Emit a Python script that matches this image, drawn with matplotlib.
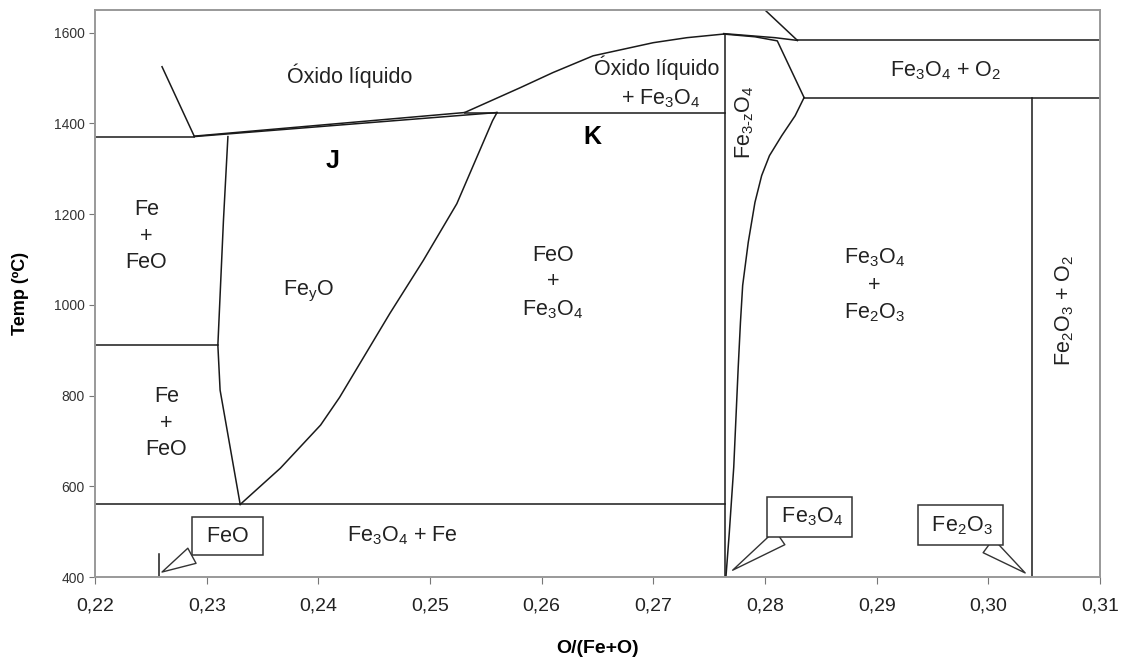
import matplotlib.pyplot as plt
from matplotlib.ticker import FuncFormatter

plt.rcParams['font.family'] = ['Liberation Sans', 'DejaVu Sans']
plt.rcParams['mathtext.fontset'] = 'custom'
plt.rcParams['mathtext.rm'] = 'Liberation Sans'
plt.rcParams['mathtext.it'] = 'Liberation Sans:italic'
plt.rcParams['mathtext.bf'] = 'Liberation Sans:bold'

# phase boundaries, O/(Fe+O) vs temperature (C)
wustite_left_x = [0.2319, 0.2315, 0.2310, 0.2312, 0.2330]
wustite_left_t = [1371, 1186, 911, 812, 560]
wustite_right_x = [0.2330, 0.2366, 0.2402, 0.2419, 0.2464, 0.2494, 0.2524, 0.2556, 0.2560]
wustite_right_t = [560, 640, 735, 796, 981, 1098, 1223, 1406, 1424]
liquidus_x = [0.2531, 0.2581, 0.2610, 0.2646, 0.2700, 0.2730, 0.2763]
liquidus_t = [1424, 1479, 1512, 1549, 1578, 1589, 1597]
magnetite_right_x = [0.2835, 0.2827, 0.2815, 0.2804, 0.2797, 0.2791, 0.2785, 0.2780,
                     0.2778, 0.2776, 0.2772, 0.2768, 0.2765]
magnetite_right_t = [1457, 1417, 1373, 1329, 1285, 1226, 1138, 1043,
                     961, 862, 642, 497, 400]
magnetite_top_x = [0.2763, 0.2791, 0.2811, 0.2835]
magnetite_top_t = [1597, 1591, 1582, 1457]
magnetite_top2_x = [0.2763, 0.2809, 0.2829]
magnetite_top2_t = [1598, 1589, 1583]
fe_liquidus_x = [0.2260, 0.2289]
fe_liquidus_t = [1525, 1371]
solidus_upper_x = [0.2289, 0.2531]
solidus_upper_t = [1372, 1424]
solidus_lower_x = [0.2289, 0.2560]
solidus_lower_t = [1371, 1424]
o2_line_x = [0.2800, 0.2829]
o2_line_t = [1650, 1583]

# isotherms: (temperature, x start, x end)
isotherms = [
    (1371, 0.2200, 0.2289),
    (912, 0.2200, 0.2310),
    (560, 0.2200, 0.2764),
    (1424, 0.2531, 0.2764),
    (1583, 0.2829, 0.3100),
    (1457, 0.2835, 0.3100),
]
# verticals: (x, t start, t end)
verticals = [
    (0.2764, 400, 1597),
    (0.3039, 400, 1457),
    (0.2257, 400, 451),
]

xticks = [0.22, 0.23, 0.24, 0.25, 0.26, 0.27, 0.28, 0.29, 0.30, 0.31]
yticks = [400, 600, 800, 1000, 1200, 1400, 1600]

fig = plt.figure(figsize=(11.26, 6.59), dpi=100)
ax = fig.add_axes([0.0844, 0.1244, 0.8925, 0.8604])

lc = '#1a1a1a'
lw = 1.1
curves = [
    (wustite_left_x, wustite_left_t), (wustite_right_x, wustite_right_t),
    (liquidus_x, liquidus_t), (magnetite_right_x, magnetite_right_t),
    (magnetite_top_x, magnetite_top_t), (magnetite_top2_x, magnetite_top2_t),
    (fe_liquidus_x, fe_liquidus_t), (solidus_upper_x, solidus_upper_t),
    (solidus_lower_x, solidus_lower_t), (o2_line_x, o2_line_t),
]
for xs, ts in curves:
    ax.plot(xs, ts, color=lc, lw=lw)
for t, x0, x1 in isotherms:
    ax.plot([x0, x1], [t, t], color=lc, lw=lw)
for x, t0, t1 in verticals:
    ax.plot([x, x], [t0, t1], color=lc, lw=lw)

ax.set_xlim(0.22, 0.31)
ax.set_ylim(400, 1650)
ax.set_xticks(xticks)
ax.set_yticks(yticks)
ax.xaxis.set_major_formatter(FuncFormatter(lambda v, p: f'{v:.2f}'.replace('.', ',')))
ax.tick_params(axis='x', labelsize=14, length=5, color='#777777', labelcolor='#222222', pad=10)
ax.tick_params(axis='y', labelsize=10, length=4, color='#777777', labelcolor='#333333')
for s in ax.spines.values():
    s.set_color('#999999')
    s.set_linewidth(1.4)

ax.set_xlabel('O/(Fe+O)', fontsize=14, fontweight='bold', labelpad=18)
ax.set_ylabel('Temp (ºC)', fontsize=13, fontweight='bold', labelpad=18)

fs = 15.5
tc = '#222222'
ax.text(0.2428, 1505, 'Óxido líquido', fontsize=fs, color=tc, ha='center', va='center')
ax.text(0.2703, 1523, 'Óxido líquido', fontsize=fs, color=tc, ha='center', va='center')
ax.text(0.2707, 1455, '+ Fe$_3$O$_4$', fontsize=fs, color=tc, ha='center', va='center')
ax.text(0.2413, 1318, 'J', fontsize=18, fontweight='bold', ha='center', va='center')
ax.text(0.2645, 1369, 'K', fontsize=18, fontweight='bold', ha='center', va='center')
ax.text(0.2782, 1402, r'Fe$_{\text{3-z}}$O$_4$', fontsize=fs, color=tc, rotation=90,
        ha='center', va='center')
ax.text(0.2962, 1516, 'Fe$_3$O$_4$ + O$_2$', fontsize=fs, color=tc, ha='center', va='center')
ax.text(0.2246, 1151, 'Fe\n+\nFeO', fontsize=fs, color=tc, ha='center', va='center',
        linespacing=1.35)
ax.text(0.2391, 1030, 'Fe$_\\mathrm{y}$O', fontsize=fs, color=tc, ha='center', va='center')
ax.text(0.2610, 1049, 'FeO\n+\nFe$_3$O$_4$', fontsize=fs, color=tc, ha='center', va='center',
        linespacing=1.35)
ax.text(0.2898, 1043, 'Fe$_3$O$_4$\n+\nFe$_2$O$_3$', fontsize=fs, color=tc, ha='center',
        va='center', linespacing=1.35)
ax.text(0.3068, 988, 'Fe$_2$O$_3$ + O$_2$', fontsize=fs, color=tc, rotation=90,
        ha='center', va='center')
ax.text(0.2264, 739, 'Fe\n+\nFeO', fontsize=fs, color=tc, ha='center', va='center',
        linespacing=1.35)
ax.text(0.2475, 490, 'Fe$_3$O$_4$ + Fe', fontsize=fs, color=tc, ha='center', va='center')

# callout boxes pointing at the stoichiometric compositions
callouts = [
    (' FeO ', (0.2260, 411), (0.2319, 490)),
    (' Fe$_3$O$_4$ ', (0.2771, 415), (0.2840, 532)),
    (' Fe$_2$O$_3$ ', (0.3033, 409), (0.2975, 514)),
]
for label, tip, pos in callouts:
    ax.annotate(label, xy=tip, xytext=pos, fontsize=fs, color=tc, ha='center', va='center',
                bbox=dict(boxstyle='square,pad=0.4', fc='white', ec='#333333', lw=1.1),
                arrowprops=dict(arrowstyle='wedge,tail_width=0.8,shrink_factor=0.5',
                                fc='white', ec='#333333', lw=1.0, shrinkA=0, shrinkB=0))

fig.savefig('out.png', dpi=100)
